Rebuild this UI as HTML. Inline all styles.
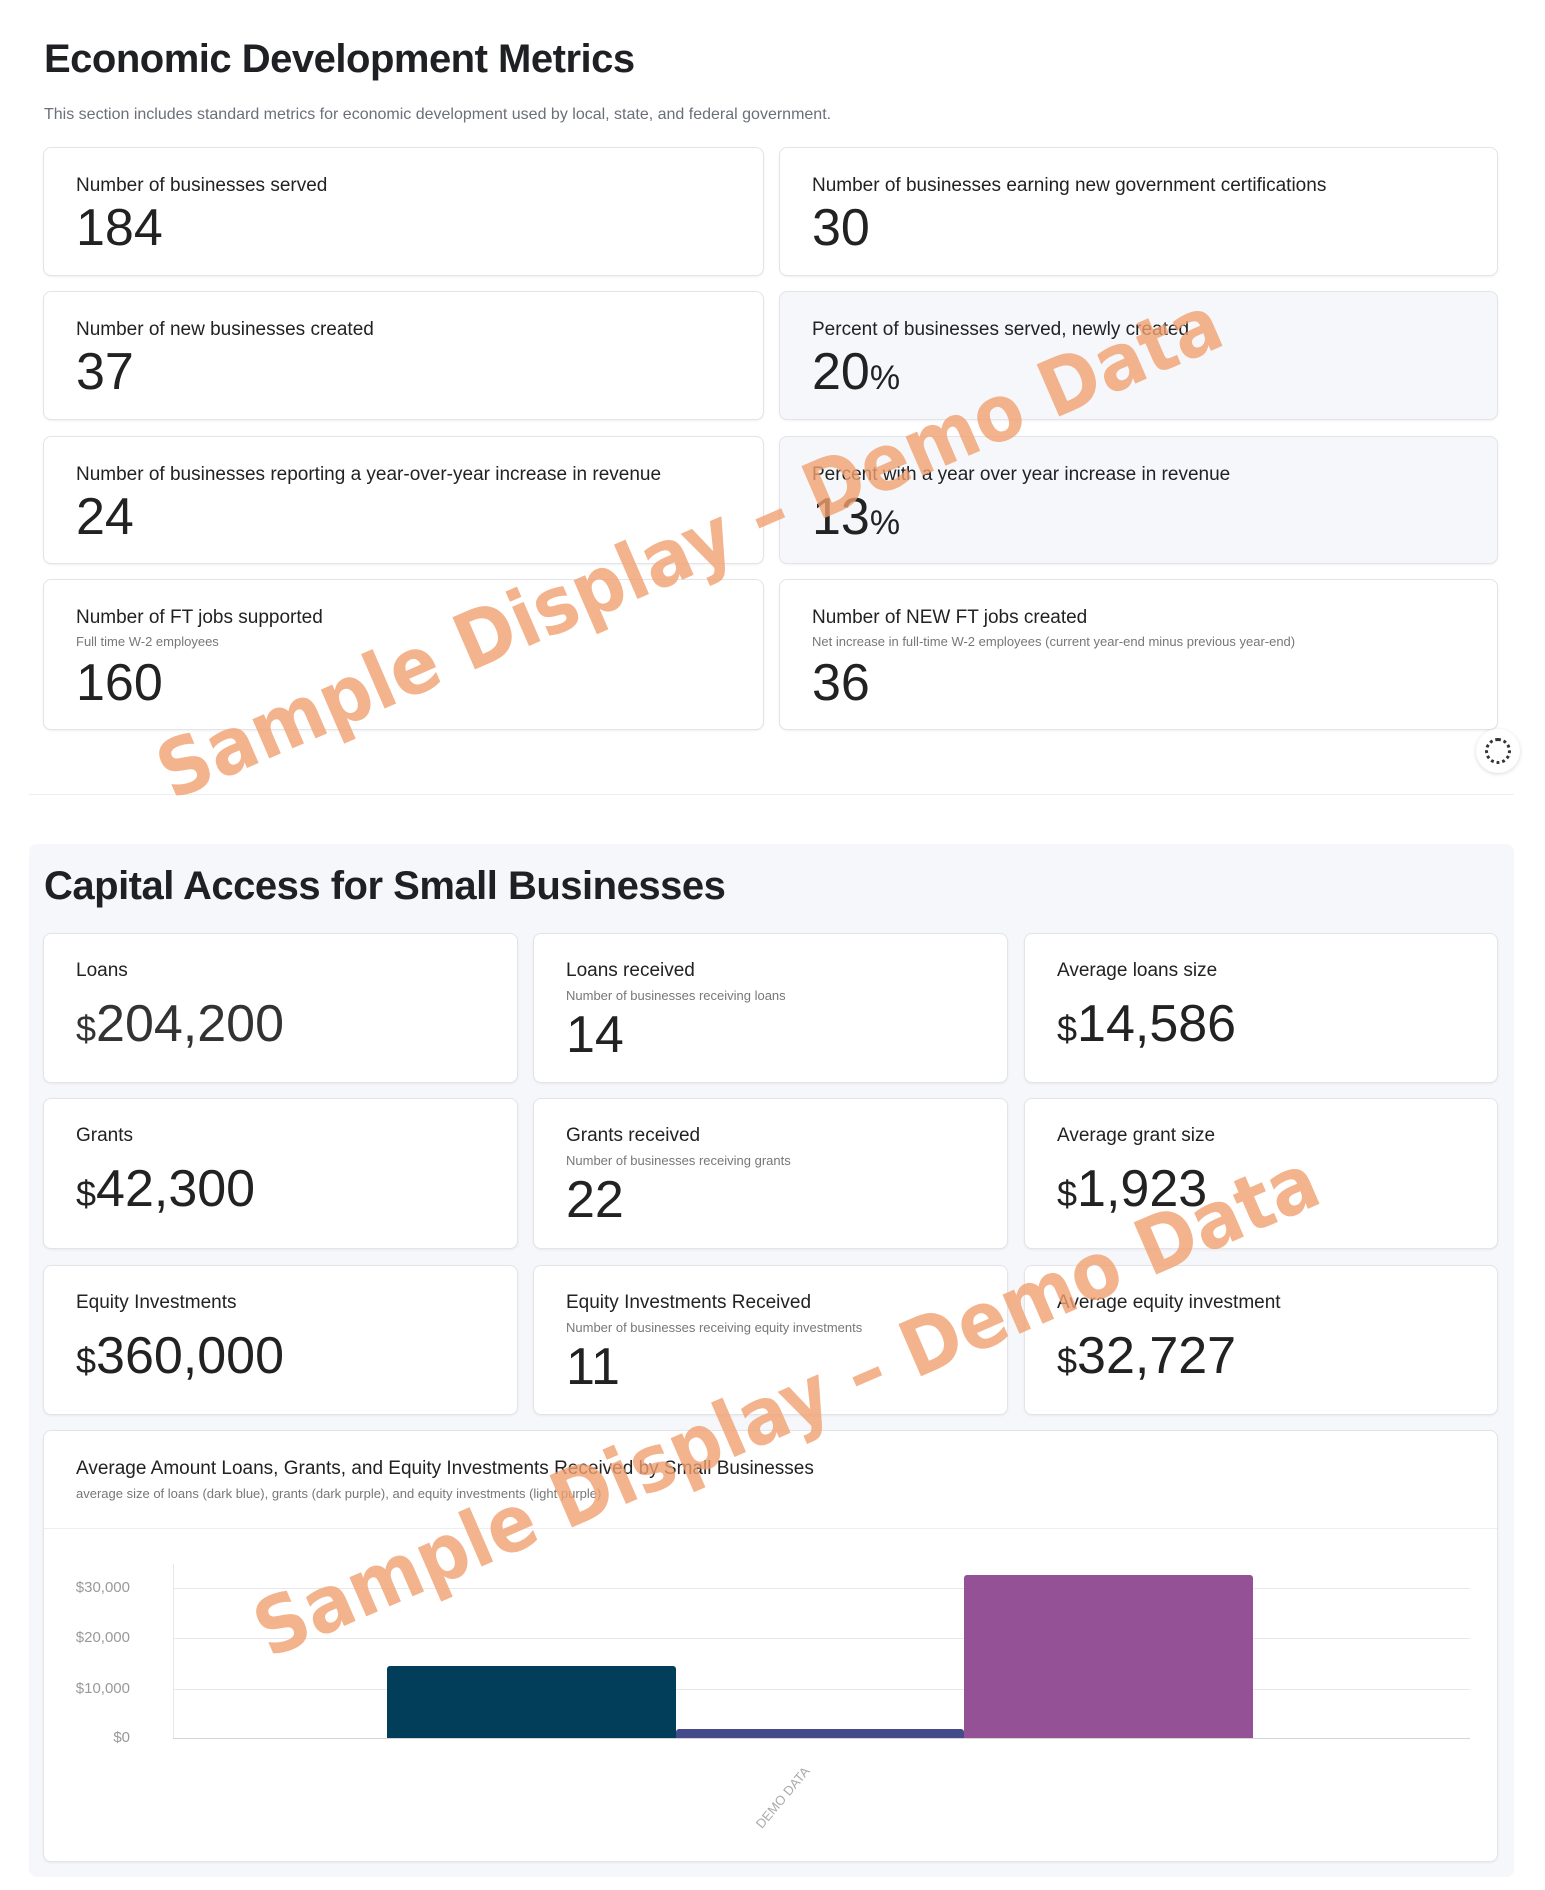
<!DOCTYPE html>
<html><head><meta charset="utf-8"><style>
*{margin:0;padding:0;box-sizing:border-box}
body{width:1545px;height:1890px;background:#fff;position:relative;font-family:"Liberation Sans",sans-serif;color:#1f2024;overflow:hidden}
.a{position:absolute;white-space:nowrap}
.card{position:absolute;background:#fff;border:1px solid #e2e4ea;border-radius:8px;box-shadow:0 1px 2px rgba(0,0,0,.06)}
.g{background:#f6f7fb}
.lb{position:absolute;left:32px;font-size:19px;line-height:19px;color:#222}
.sb{position:absolute;left:32px;font-size:13px;line-height:13px;color:#777}
.vl{position:absolute;left:32px;font-size:52px;line-height:52px;color:#222}
.vl small{font-size:34px}
.vl .d{font-size:36px}
.yl{position:absolute;font-size:15px;color:#999;text-align:right;width:80px}
.gl{position:absolute;height:1px;background:#e8e8ec;left:173px;width:1297px}
</style></head><body>
<div class="a" style="left:44px;top:37px;font-size:40px;font-weight:bold;letter-spacing:-0.5px">Economic Development Metrics</div>
<div class="a" style="left:44px;top:106px;font-size:16px;color:#6b6f78">This section includes standard metrics for economic development used by local, state, and federal government.</div>

<div class="card" style="left:43px;top:147px;width:721px;height:129px"><div class="lb" style="top:28px">Number of businesses served</div><div class="vl" style="top:54px">184</div></div>
<div class="card" style="left:779px;top:147px;width:719px;height:129px"><div class="lb" style="top:28px">Number of businesses earning new government certifications</div><div class="vl" style="top:54px">30</div></div>
<div class="card" style="left:43px;top:291px;width:721px;height:129px"><div class="lb" style="top:28px">Number of new businesses created</div><div class="vl" style="top:54px">37</div></div>
<div class="card g" style="left:779px;top:291px;width:719px;height:129px"><div class="lb" style="top:28px">Percent of businesses served, newly created</div><div class="vl" style="top:54px">20<small>%</small></div></div>
<div class="card" style="left:43px;top:436px;width:721px;height:128px"><div class="lb" style="top:28px">Number of businesses reporting a year-over-year increase in revenue</div><div class="vl" style="top:54px">24</div></div>
<div class="card g" style="left:779px;top:436px;width:719px;height:128px"><div class="lb" style="top:28px">Percent with a year over year increase in revenue</div><div class="vl" style="top:54px">13<small>%</small></div></div>
<div class="card" style="left:43px;top:579px;width:721px;height:151px"><div class="lb" style="top:28px">Number of FT jobs supported</div><div class="sb" style="top:55px">Full time W-2 employees</div><div class="vl" style="top:77px">160</div></div>
<div class="card" style="left:779px;top:579px;width:719px;height:151px"><div class="lb" style="top:28px">Number of NEW FT jobs created</div><div class="sb" style="top:55px">Net increase in full-time W-2 employees (current year-end minus previous year-end)</div><div class="vl" style="top:77px">36</div></div>

<div class="a" style="left:1476px;top:729px;width:44px;height:44px;border-radius:50%;background:#fff;box-shadow:0 1px 4px rgba(0,0,0,.15)"><div style="position:absolute;left:9px;top:9px;width:26px;height:26px;border-radius:50%;border:3px dotted #333"></div></div>
<div class="a" style="left:29px;top:794px;width:1485px;height:1px;background:#eceef2"></div>

<div class="a" style="left:29px;top:844px;width:1485px;height:1033px;background:#f6f7fb;border-radius:8px"></div>
<div class="a" style="left:44px;top:864px;font-size:40px;font-weight:bold;letter-spacing:-0.5px">Capital Access for Small Businesses</div>

<div class="card" style="left:43px;top:933px;width:475px;height:150px"><div class="lb" style="top:27px">Loans</div><div class="vl" style="top:64px;color:#333"><span class="d">$</span>204,200</div></div>
<div class="card" style="left:533px;top:933px;width:475px;height:150px"><div class="lb" style="top:27px">Loans received</div><div class="sb" style="top:55px">Number of businesses receiving loans</div><div class="vl" style="top:75px">14</div></div>
<div class="card" style="left:1024px;top:933px;width:474px;height:150px"><div class="lb" style="top:27px">Average loans size</div><div class="vl" style="top:64px"><span class="d">$</span>14,586</div></div>
<div class="card" style="left:43px;top:1098px;width:475px;height:151px"><div class="lb" style="top:27px">Grants</div><div class="vl" style="top:64px"><span class="d">$</span>42,300</div></div>
<div class="card" style="left:533px;top:1098px;width:475px;height:151px"><div class="lb" style="top:27px">Grants received</div><div class="sb" style="top:55px">Number of businesses receiving grants</div><div class="vl" style="top:75px">22</div></div>
<div class="card" style="left:1024px;top:1098px;width:474px;height:151px"><div class="lb" style="top:27px">Average grant size</div><div class="vl" style="top:64px"><span class="d">$</span>1,923</div></div>
<div class="card" style="left:43px;top:1265px;width:475px;height:150px"><div class="lb" style="top:27px">Equity Investments</div><div class="vl" style="top:64px"><span class="d">$</span>360,000</div></div>
<div class="card" style="left:533px;top:1265px;width:475px;height:150px"><div class="lb" style="top:27px">Equity Investments Received</div><div class="sb" style="top:55px">Number of businesses receiving equity investments</div><div class="vl" style="top:75px">11</div></div>
<div class="card" style="left:1024px;top:1265px;width:474px;height:150px"><div class="lb" style="top:27px">Average equity investment</div><div class="vl" style="top:64px"><span class="d">$</span>32,727</div></div>

<div class="card" style="left:43px;top:1430px;width:1455px;height:432px">
<div class="lb" style="top:28px">Average Amount Loans, Grants, and Equity Investments Received by Small Businesses</div>
<div class="sb" style="top:56px">average size of loans (dark blue), grants (dark purple), and equity investments (light purple)</div>
<div style="position:absolute;left:0;right:0;top:97px;height:1px;background:#eceef2"></div>
</div>
<div class="gl" style="top:1588px"></div><div class="gl" style="top:1638px"></div><div class="gl" style="top:1689px"></div><div class="gl" style="top:1738px;background:#d4d4d8"></div>
<div class="a" style="left:173px;top:1564px;width:1px;height:174px;background:#e8e8ec"></div>
<div class="yl" style="left:50px;top:1579px">$30,000</div>
<div class="yl" style="left:50px;top:1629px">$20,000</div>
<div class="yl" style="left:50px;top:1680px">$10,000</div>
<div class="yl" style="left:50px;top:1729px">$0</div>
<div class="a" style="left:387px;top:1666px;width:289px;height:72px;background:#023e5a;border-radius:3px 3px 0 0"></div>
<div class="a" style="left:676px;top:1729px;width:288px;height:9px;background:#444a8a;border-radius:3px 3px 0 0"></div>
<div class="a" style="left:964px;top:1575px;width:289px;height:163px;background:#955196;border-radius:3px 3px 0 0"></div>
<div class="a" style="left:745px;top:1790px;font-size:13px;color:#aaa;transform:rotate(-50deg)">DEMO DATA</div>

<svg class="a" style="left:0;top:0" width="1545" height="1890">
<g font-family="DejaVu Sans, sans-serif" font-weight="bold" font-size="78" fill="#f0a070" fill-opacity="0.8" text-anchor="middle">
<text x="0" y="0" textLength="1150" lengthAdjust="spacingAndGlyphs" transform="translate(700,572) rotate(-23.4)">Sample Display – Demo Data</text>
<text x="0" y="0" textLength="1150" lengthAdjust="spacingAndGlyphs" transform="translate(797,1430) rotate(-23.4)">Sample Display – Demo Data</text>
</g></svg>
</body></html>
